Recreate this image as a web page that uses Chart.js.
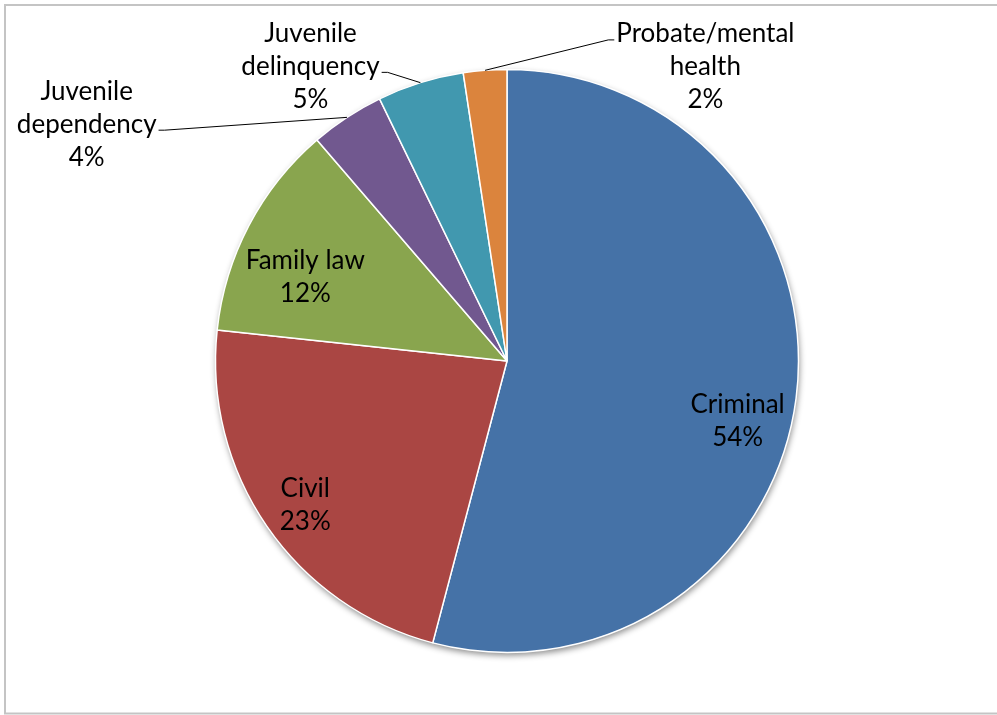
<!DOCTYPE html>
<html><head><meta charset="utf-8">
<script src="https://cdn.jsdelivr.net/npm/chart.js@4/dist/chart.umd.min.js"></script>
<style>html,body{margin:0;padding:0;background:#fff}canvas{display:block}</style>
</head><body>
<canvas id="c" width="997" height="715"></canvas>
<script>
const categories = ['Criminal', 'Civil', 'Family law', 'Juvenile dependency', 'Juvenile delinquency', 'Probate/mental health'];
const shares = [54.1, 22.6, 12.0, 4.1, 4.8, 2.4];
const colors = ['#4572A7', '#AA4643', '#89A54E', '#71588F', '#4198AF', '#DB843D'];
const labelLines = [['Criminal'], ['Civil'], ['Family law'], ['Juvenile', 'dependency'], ['Juvenile', 'delinquency'], ['Probate/mental', 'health']];
// label placement: angle (deg clockwise from 12 o'clock) and distance as fraction of pie radius
const labelAngle = [104.7, 234.5, 292.7, 299.4, 326.3, 34.0];
const labelRadius = [0.818, 0.85, 0.75, 1.655, 1.215, 1.217];
const leader = [null, null, null, {line: 1, side: 'right'}, {line: 1, side: 'right'}, {line: 0, side: 'left'}];

const FONT = '26px Lato';
const LINE_H = 33;

const decor = {
  id: 'decor',
  beforeDraw(chart) {
    const ctx = chart.ctx;
    ctx.save();
    ctx.fillStyle = '#fff';
    ctx.fillRect(0, 0, chart.width, chart.height);
    ctx.strokeStyle = '#c4c4c4';
    ctx.lineWidth = 2;
    ctx.strokeRect(5, 5, 1100, 708.5);
    ctx.restore();
  },
  beforeDatasetsDraw(chart) {
    const arc = chart.getDatasetMeta(0).data[0];
    if (!arc) return;
    const {x, y, outerRadius} = arc.getProps(['x', 'y', 'outerRadius'], true);
    const ctx = chart.ctx;
    ctx.save();
    ctx.shadowColor = 'rgba(0,0,0,0.45)';
    ctx.shadowBlur = 6;
    ctx.shadowOffsetX = 1;
    ctx.shadowOffsetY = 3;
    ctx.fillStyle = '#fff';
    ctx.beginPath();
    ctx.arc(x, y, outerRadius, 0, Math.PI * 2);
    ctx.fill();
    ctx.restore();
  },
  afterDatasetsDraw(chart) {
    const ctx = chart.ctx;
    const meta = chart.getDatasetMeta(0);
    const data = chart.data.datasets[0].data;
    const total = data.reduce((a, b) => a + b, 0);
    ctx.save();
    ctx.font = FONT;
    ctx.fillStyle = '#000';
    ctx.textAlign = 'center';
    ctx.textBaseline = 'middle';
    meta.data.forEach((arc, i) => {
      const {x, y, startAngle, endAngle, outerRadius} = arc.getProps(['x', 'y', 'startAngle', 'endAngle', 'outerRadius'], true);
      const a = labelAngle[i] * Math.PI / 180 - Math.PI / 2;
      const cx = x + labelRadius[i] * outerRadius * Math.cos(a);
      const cy = y + labelRadius[i] * outerRadius * Math.sin(a);
      const lines = labelLines[i].concat([Math.round(data[i] / total * 100) + '%']);
      const n = lines.length;
      lines.forEach((t, k) => {
        ctx.fillText(t, cx, cy + (k - (n - 1) / 2) * LINE_H);
      });
      const ld = leader[i];
      if (ld) {
        const mid = (startAngle + endAngle) / 2;
        const px = x + outerRadius * Math.cos(mid);
        const py = y + outerRadius * Math.sin(mid);
        const w = ctx.measureText(lines[ld.line]).width;
        const ay = cy + (ld.line - (n - 1) / 2) * LINE_H + 6;
        const dir = ld.side === 'right' ? 1 : -1;
        const ax = cx + dir * (w / 2 + 2);
        ctx.strokeStyle = '#000';
        ctx.lineWidth = 1;
        ctx.beginPath();
        ctx.moveTo(ax, ay);
        ctx.lineTo(ax + dir * 6, ay);
        ctx.lineTo(px, py);
        ctx.stroke();
      }
    });
    ctx.restore();
  }
};

new Chart(document.getElementById('c'), {
  type: 'pie',
  data: {
    labels: categories,
    datasets: [{
      data: shares,
      backgroundColor: colors,
      borderColor: '#ffffff',
      borderWidth: 1.5
    }]
  },
  options: {
    responsive: false,
    animation: false,
    devicePixelRatio: 1,
    radius: 291.5,
    layout: {padding: {left: 215, right: 198, top: 69, bottom: 62}},
    plugins: {legend: {display: false}, tooltip: {enabled: false}}
  },
  plugins: [decor]
});
</script>
</body></html>
